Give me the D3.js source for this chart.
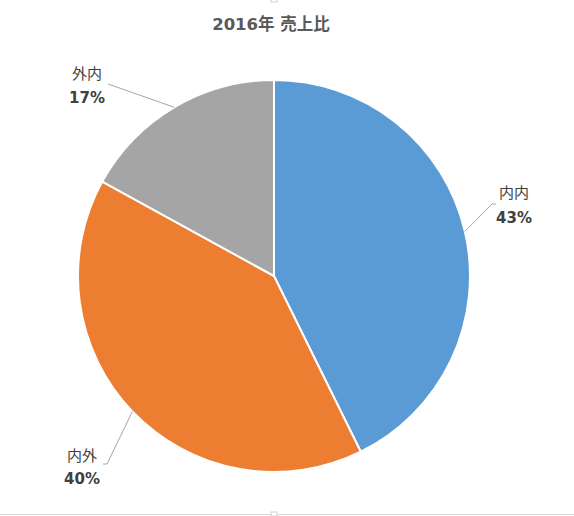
<!DOCTYPE html>
<html>
<head>
<meta charset="utf-8">
<script src="https://cdn.jsdelivr.net/npm/d3@7"></script>
<style>
  body { margin: 0; background: #fff; }
  svg { display: block; }
</style>
</head>
<body>
<svg id="chart" width="574" height="516"></svg>
<script>
// chart data (shares)
var categories = ['内内', '内外', '外内'];
var values = [42.7, 40.3, 17.0];
var colors = ['#5B9BD5', '#ED7D31', '#A5A5A5'];
var title = '2016年 売上比';

var svg = d3.select('#chart');
var width = 574, height = 516;
var cx = 274, cy = 276, radius = 196;

// frame line at bottom plus small handles
svg.append('line')
  .attr('x1', 0).attr('x2', width)
  .attr('y1', 514.5).attr('y2', 514.5)
  .attr('stroke', '#d9d9d9');
svg.append('rect')
  .attr('x', cx - 3).attr('y', 512).attr('width', 6).attr('height', 4)
  .attr('fill', '#fff').attr('stroke', '#d0d0d0');
svg.append('rect')
  .attr('x', cx - 3).attr('y', -2).attr('width', 6).attr('height', 4)
  .attr('fill', '#fff').attr('stroke', '#d0d0d0');

svg.append('text')
  .attr('x', 271).attr('y', 30)
  .attr('text-anchor', 'middle')
  .attr('font-family', '"DejaVu Sans", "Noto Sans CJK JP", sans-serif')
  .attr('font-size', 16.5)
  .attr('font-weight', 'bold')
  .attr('fill', '#595959')
  .text(title);

var pie = d3.pie().sort(null).value(function(d) { return d; });
var arcs = pie(values);
var arc = d3.arc().innerRadius(0).outerRadius(radius);

var g = svg.append('g').attr('transform', 'translate(' + cx + ',' + cy + ')');

g.selectAll('path')
  .data(arcs)
  .enter()
  .append('path')
  .attr('d', arc)
  .attr('fill', function(d, i) { return colors[i]; })
  .attr('stroke', '#fff')
  .attr('stroke-width', 2);

// label placement relative to the pie centre
var labelPos = [
  { x: 240, y: -78, gap: 25, elbow: [218, -72], end: [222, -72] },
  { x: -192, y: 185, gap: 23, elbow: [-167, 188], end: [-171, 188] },
  { x: -187, y: -197, gap: 24, elbow: [-166, -192], end: [-166, -192] }
];

var outer = d3.arc().innerRadius(radius).outerRadius(radius);

arcs.forEach(function(d, i) {
  var p = labelPos[i];
  var start = outer.centroid(d);
  // leader line
  g.append('polyline')
    .attr('points', [start, p.elbow, p.end].map(function(q) { return q.join(','); }).join(' '))
    .attr('fill', 'none')
    .attr('stroke', '#a6a6a6')
    .attr('stroke-width', 1);

  g.append('text')
    .attr('x', p.x).attr('y', p.y)
    .attr('text-anchor', 'middle')
    .attr('font-family', '"Noto Sans CJK JP", sans-serif')
    .attr('font-size', 15)
    .attr('fill', '#404040')
    .text(categories[i]);

  g.append('text')
    .attr('x', p.x).attr('y', p.y + p.gap)
    .attr('text-anchor', 'middle')
    .attr('font-family', '"DejaVu Sans", sans-serif')
    .attr('font-size', 15)
    .attr('font-weight', 'bold')
    .attr('fill', '#404040')
    .text(d3.format('.0%')(values[i] / d3.sum(values)));
});
</script>
</body>
</html>
